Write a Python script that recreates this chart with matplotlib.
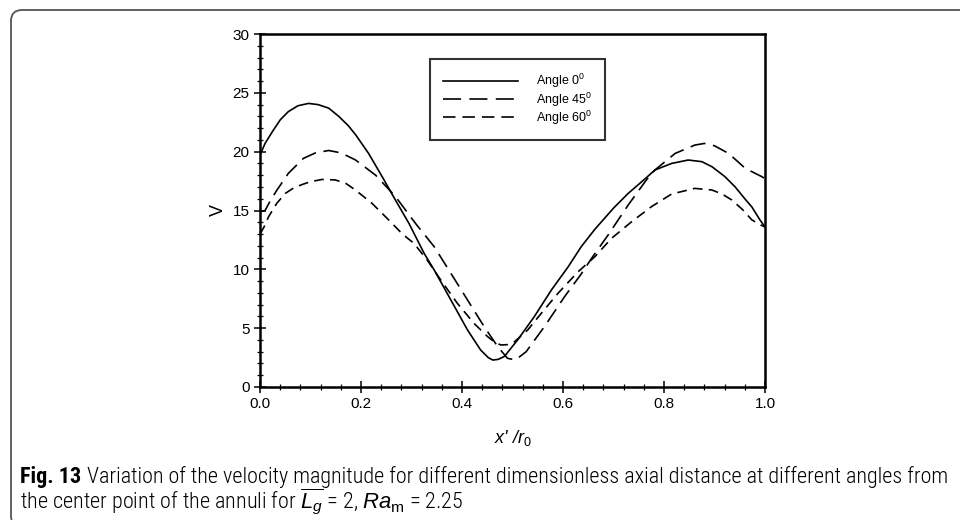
import matplotlib
matplotlib.use("Agg")
import matplotlib.pyplot as plt
from matplotlib import font_manager
from matplotlib.path import Path
from matplotlib.patches import PathPatch
from matplotlib.ticker import MultipleLocator

# ---------------- data ----------------
x_a0 = [0.0, 0.01, 0.026, 0.04, 0.056, 0.075, 0.096, 0.115, 0.136, 0.156, 0.175,
        0.19, 0.215, 0.242, 0.268, 0.295, 0.325, 0.345, 0.378, 0.411, 0.437, 0.452,
        0.461, 0.472, 0.484, 0.51, 0.543, 0.577, 0.61, 0.636, 0.663, 0.7, 0.729,
        0.76, 0.782, 0.815, 0.848, 0.875, 0.895, 0.92, 0.941, 0.96, 0.974, 0.99, 1.0]
v_a0 = [19.7, 20.7, 21.8, 22.7, 23.4, 23.9, 24.1, 24.0, 23.7, 23.0, 22.2,
        21.4, 19.85, 17.87, 15.9, 13.9, 11.36, 9.94, 7.39, 4.84, 3.14, 2.5,
        2.29, 2.35, 2.6, 3.99, 5.97, 8.24, 10.2, 11.92, 13.4, 15.2, 16.45,
        17.6, 18.44, 19.0, 19.29, 19.15, 18.72, 17.9, 17.0, 16.0, 15.3, 14.2, 13.6]

x_a45 = [0.0, 0.01, 0.02, 0.033, 0.056, 0.086, 0.11, 0.136, 0.16, 0.189, 0.229,
         0.268, 0.308, 0.345, 0.378, 0.411, 0.444, 0.471, 0.49, 0.506, 0.527,
         0.563, 0.603, 0.636, 0.656, 0.689, 0.729, 0.765, 0.782, 0.822, 0.861,
         0.88, 0.9, 0.928, 0.961, 0.994, 1.0]
v_a45 = [14.9, 15.0, 15.8, 16.7, 18.15, 19.43, 19.9, 20.1, 19.9, 19.3, 18.0,
         16.2, 13.9, 11.92, 9.66, 7.39, 5.12, 3.42, 2.44, 2.3, 3.0,
         5.12, 7.67, 9.6, 10.9, 12.9, 15.46, 17.59, 18.44, 19.85, 20.56,
         20.7, 20.5, 19.85, 18.58, 17.87, 17.7]

x_a60 = [0.0, 0.008, 0.017, 0.033, 0.05, 0.066, 0.083, 0.1, 0.123, 0.149, 0.17,
         0.189, 0.222, 0.255, 0.282, 0.305, 0.331, 0.358, 0.391, 0.424, 0.451,
         0.465, 0.477, 0.49, 0.504, 0.53, 0.557, 0.59, 0.63, 0.663, 0.696, 0.736,
         0.775, 0.815, 0.861, 0.895, 0.915, 0.934, 0.955, 0.974, 0.99, 1.0]
v_a60 = [13.0, 13.6, 14.47, 15.6, 16.45, 16.9, 17.2, 17.45, 17.64, 17.6, 17.3,
         16.74, 15.6, 14.19, 13.0, 12.2, 10.79, 9.09, 7.1, 5.4, 4.27,
         3.8, 3.57, 3.6, 3.85, 4.84, 6.26, 7.96, 9.8, 11.07, 12.63, 14.05,
         15.32, 16.4, 16.88, 16.74, 16.4, 15.9, 15.1, 14.2, 13.8, 13.6]

labels = ["Angle 0$^{\\mathregular{0}}$", "Angle 45$^{\\mathregular{0}}$",
          "Angle 60$^{\\mathregular{0}}$"]
x_ticks = [0.0, 0.2, 0.4, 0.6, 0.8, 1.0]
x_ticklabels = ["0.0", "0.2", "0.4", "0.6", "0.8", "1.0"]
y_ticks = [0, 5, 10, 15, 20, 25, 30]

cap_bold = "Fig. 13"
cap_line1 = "Variation of the velocity magnitude for different dimensionless axial distance at different angles from"
cap_line2 = r"the center point of the annuli for $\overline{L_g}$ = 2, $Ra_{\mathrm{m}}$ = 2.25"

# ---------------- style ----------------
plt.rcParams["font.family"] = ["Liberation Sans", "DejaVu Sans"]
plt.rcParams["mathtext.fontset"] = "custom"
plt.rcParams["mathtext.rm"] = "Liberation Sans"
plt.rcParams["mathtext.it"] = "Liberation Sans:italic"
plt.rcParams["mathtext.bf"] = "Liberation Sans:bold"
plt.rcParams["lines.scale_dashes"] = False

W, H = 960, 520
fig = plt.figure(figsize=(W / 100, H / 100), dpi=100)

ax_l, ax_r, ax_t, ax_b = 260, 765, 34, 387
ax = fig.add_axes([ax_l / W, 1 - ax_b / H, (ax_r - ax_l) / W, (ax_b - ax_t) / H])

lw = 1.2
ax.plot(x_a0, v_a0, color="black", lw=lw, label=labels[0])
l45, = ax.plot(x_a45, v_a45, color="black", lw=lw, label=labels[1])
l45.set_dashes((11, 5.5))
l60, = ax.plot(x_a60, v_a60, color="black", lw=lw, label=labels[2])
l60.set_dashes((7, 4.5))

ax.set_xlim(0, 1)
ax.set_ylim(0, 30)
ax.set_xticks(x_ticks)
ax.set_xticklabels(x_ticklabels)
ax.set_yticks(y_ticks)
ax.xaxis.set_minor_locator(MultipleLocator(0.04))
ax.yaxis.set_minor_locator(MultipleLocator(1))
ax.tick_params(which="major", direction="inout", length=9, width=1.1,
               labelsize=11, pad=3)
ax.tick_params(which="minor", direction="inout", length=5, width=0.9)
ax.tick_params(top=False, right=False, which="both")
for s in ax.spines.values():
    s.set_linewidth(1.8)

ax.set_xlabel(r"$x$' /$r_0$", fontsize=13, labelpad=12, style="italic")
ax.set_ylabel("V", fontsize=13, labelpad=4)

leg = ax.legend(loc="upper left", bbox_to_anchor=(0.337, 0.929), fontsize=9,
                frameon=True, fancybox=False, edgecolor="black",
                handlelength=6.0, handletextpad=1.4, borderpad=1.05,
                labelspacing=0.0, borderaxespad=0)
leg.get_frame().set_linewidth(1.5)
for h, d in zip(leg.get_lines(), [None, (13, 6), (9, 5)]):
    if d is not None:
        h.set_dashes(d)

# ---------------- frame around figure ----------------
r = 11
x0, y0 = 11, 10
verts = [(W + 5, y0), (x0 + r, y0), (x0, y0), (x0, y0 + r), (x0, H - 4),
         (x0, H + 2), (x0 + 4, H + 4)]
codes = [Path.MOVETO, Path.LINETO, Path.CURVE3, Path.CURVE3, Path.LINETO,
         Path.CURVE3, Path.CURVE3]
fverts = [(vx / W, 1 - vy / H) for vx, vy in verts]
fig.patches.append(PathPatch(Path(fverts, codes), transform=fig.transFigure,
                             fill=False, edgecolor="#555555", lw=1.3))

# ---------------- caption ----------------
names = {f.name for f in font_manager.fontManager.ttflist}
cond = None
for cand in ["Liberation Sans Narrow", "Roboto Condensed", "Open Sans Condensed",
             "DejaVu Sans Condensed"]:
    if cand in names:
        cond = cand
        break
body_family = [cond, "DejaVu Sans"] if cond else ["Liberation Sans"]
bold_family = body_family

cx, cy1, cy2 = 20, 477, 502
rend = fig.canvas.get_renderer()
fs = 11.5
tb = fig.text(cx / W, 1 - cy1 / H, cap_bold, fontsize=fs, fontweight="bold",
              family=bold_family, va="center", ha="left")
t1 = fig.text(0, 1 - cy1 / H, cap_line1, fontsize=fs, va="center",
              ha="left", family=body_family, fontweight="light")
for _ in range(3):
    tb.set_fontsize(fs)
    t1.set_fontsize(fs)
    fig.canvas.draw()
    wb = tb.get_window_extent(rend).width
    start = cx + wb + 6
    t1.set_x(start / W)
    fig.canvas.draw()
    w1 = t1.get_window_extent(rend).width
    fs = fs * (948 - start) / w1
tb.set_fontsize(fs)
t1.set_fontsize(fs)
fig.canvas.draw()
wb = tb.get_window_extent(rend).width
t1.set_x((cx + wb + 6) / W)
t2 = fig.text(cx / W, 1 - cy2 / H, cap_line2, fontsize=fs, va="center",
              ha="left", family=body_family, fontweight="light")

fig.savefig("out.png", dpi=100)
